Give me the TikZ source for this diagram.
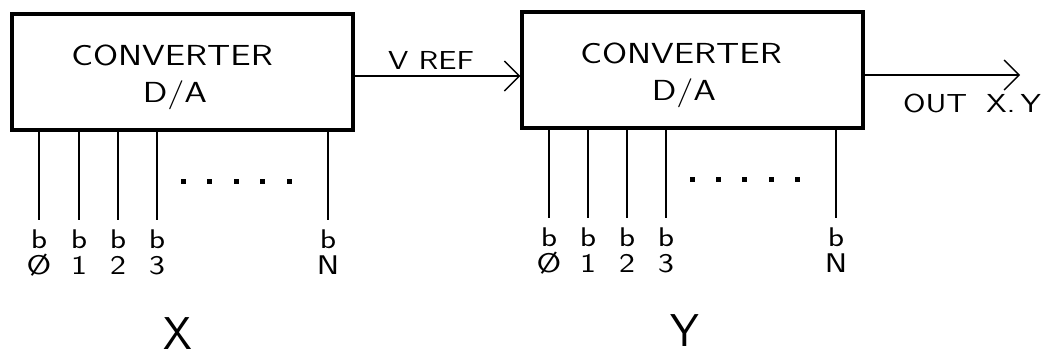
\documentclass[tikz,border=0pt]{standalone}
\usepackage{fontspec}
\usetikzlibrary{arrows.meta}
\newcommand{\widetxt}[1]{\scalebox{1.25}[1]{#1}}
\tikzset{
  conv/.style={draw, line width=3.2pt, minimum width=341pt, minimum height=116pt, inner sep=0pt},
  boxtxt/.style={font=\sffamily\fontsize{29}{30}\selectfont, inner sep=0pt, anchor=center},
  bitline/.style={line width=1.4pt},
  bitlbl/.style={font=\sffamily\fontsize{27}{26}\selectfont, align=center, inner sep=0pt, anchor=north},
  dotsq/.style={fill, minimum size=5pt, inner sep=0pt},
  arr/.style={line width=1.4pt, -{Straight Barb[length=15pt,width=30pt,line width=1.4pt]}},
  midtxt/.style={font=\sffamily\fontsize{26}{26}\selectfont, inner sep=0pt},
  bigtxt/.style={font=\sffamily\fontsize{46}{48}\selectfont, inner sep=0pt}
}
\begin{document}
\begin{tikzpicture}[x=1pt,y=-1pt]
\useasboundingbox (0,0) rectangle (1045,360);
% boxes
\node[conv] (A) at (182.5,72) {};
\node[conv] (B) at (692.5,70) {};
\node[boxtxt] (A1) at (172,55) {\widetxt{CONVERTER}};
\node[boxtxt] (A2) at (175,95) {\widetxt{D/A}};
\node[boxtxt] (B1) at (681,53) {\widetxt{CONVERTER}};
\node[boxtxt] (B2) at (684,93) {\widetxt{D/A}};
% connectors
\coordinate (outend) at (1020,75);
\draw[arr] (A.east |- 0,76) -- (B.west |- 0,76);
\draw[arr] (B.east |- 0,75) -- (outend);
\node[midtxt] (vref) at (431,60) {\widetxt{V REF}};
\node[midtxt] (out) at (972,103) {\widetxt{OUT\; X.\,Y}};
% bit lines left
\foreach \x/\d [count=\i] in {39/Ø,79/1,118/2,157/3,328/N}{
  \coordinate (la\i) at (\x,130);
  \coordinate (lb\i) at (\x,220);
  \draw[bitline] (la\i) -- (lb\i);
  \node[bitlbl] (ll\i) at (\x,230) {\widetxt{b}\\\widetxt{\d}};
}
\foreach \x/\d [count=\i] in {549/Ø,588/1,627/2,666/3,836/N}{
  \coordinate (ra\i) at (\x,128);
  \coordinate (rb\i) at (\x,218);
  \draw[bitline] (ra\i) -- (rb\i);
  \node[bitlbl] (rl\i) at (\x,228) {\widetxt{b}\\\widetxt{\d}};
}
% dots
\foreach \x [count=\i] in {183,209,236,262,289}{
  \node[dotsq] (ld\i) at (\x,181) {};
}
\foreach \x [count=\i] in {692,718,744,771,797}{
  \node[dotsq] (rd\i) at (\x,179) {};
}
\node[bigtxt] (X) at (178,334) {X};
\node[bigtxt] (Y) at (685,331) {Y};
\end{tikzpicture}
\end{document}
